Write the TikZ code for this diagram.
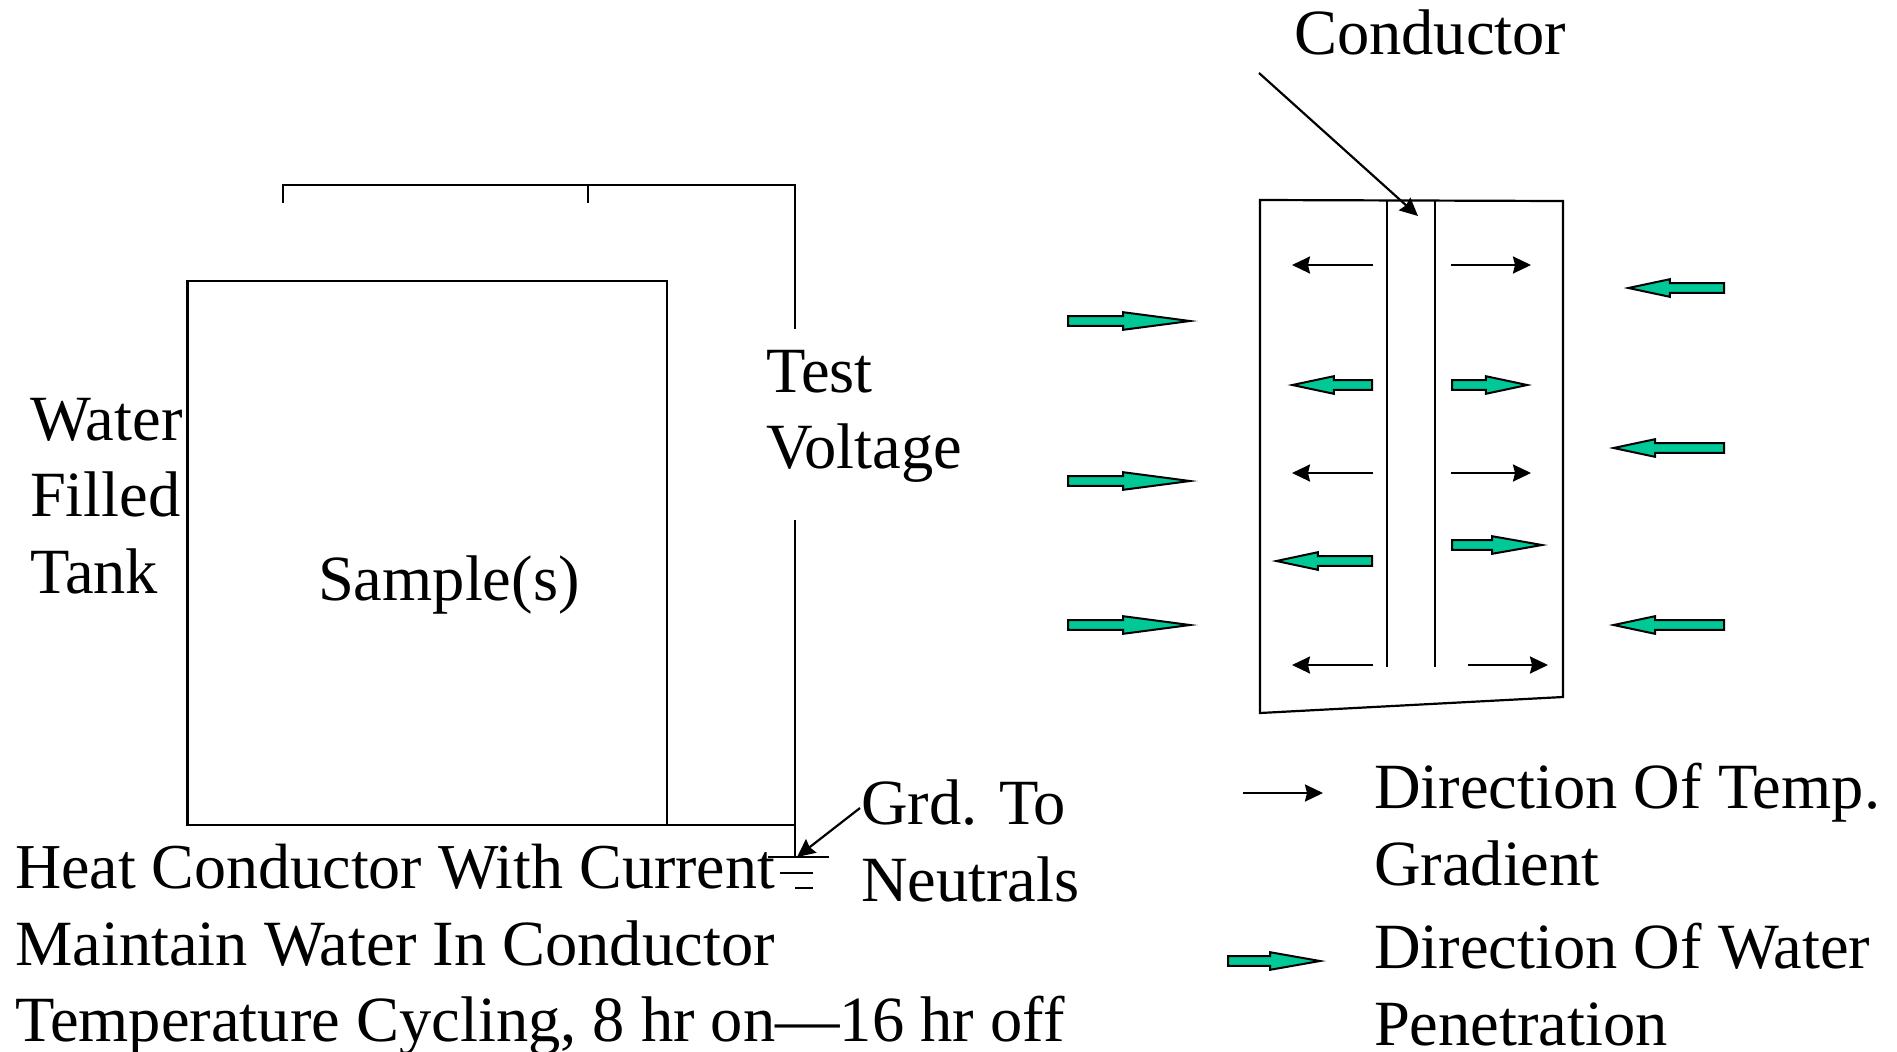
\documentclass[tikz,border=0pt]{standalone}
\usepackage{fontspec}
\setmainfont{Liberation Serif}
\usetikzlibrary{graphs}
\usetikzlibrary{arrows.meta}
\usetikzlibrary{shapes.arrows}
\definecolor{watergreen}{RGB}{0,200,150}
\tikzset{
  txt/.style= {font=\fontsize{32.25}{38.25}\selectfont, inner sep=0, anchor=north west, align=left},
  tankbox/.style= {draw, line width=1.1pt, inner sep=0, outer sep=0, minimum width=239.75pt, minimum height=272pt},
  water/.style= {draw, single arrow, fill=watergreen, line width=1pt, inner sep=1.9pt, outer sep=0, single arrow head extend=2pt, single arrow tip angle=24, anchor=tail},
  waterl/.style= {water, shape border rotate=180},
}

\begin{document}
\begin{tikzpicture}[x=0.5pt, y=-0.5pt, line width=1.1pt, >={Stealth[length=9pt, width=8.5pt, inset=1pt]}]
  \path [use as bounding box] (0,0) rectangle (1897,1051);

  % tank and test circuit
  \node [tankbox] (tank) at (427.25,553) {};
  \node [txt] (sample) at (317,555) {Sample(s)};
  \node [txt] (tanklabel) at (29,397) {Water\\Filled\\Tank};
  \node [txt] (voltage) at (765,349) {Test\\Voltage};
  \node [txt] (grdlabel) at (860,779) {Grd. To\\Neutrals};
  \node [txt] (notes) at (14,843) {{\fontsize{32}{38.25}\selectfont Heat Conductor With Current}\\Maintain Water In Conductor\\Temperature Cycling, 8 hr on---16 hr off};

  \coordinate (ta) at (283,203) ;
  \coordinate (tb) at (283,185) ;
  \coordinate (tc) at (588,203) ;
  \coordinate (td) at (588,185) ;
  \coordinate (te) at (795,185) ;
  \coordinate (tf) at (795,329) ;
  \coordinate (tg) at (795,520) ;
  \coordinate (th) at (795,857) ;
  \coordinate (ti) at (795,825) ;
  \coordinate (g1a) at (768,857) ;
  \coordinate (g1b) at (829,857) ;
  \coordinate (g2a) at (780,873) ;
  \coordinate (g2b) at (813,873) ;
  \coordinate (g3a) at (795,888) ;
  \coordinate (g3b) at (813,888) ;
  \coordinate (grdtail) at (860,808) ;
  \coordinate (grdtip) at (797,857) ;

  \draw (ta) -- (tb) -- (te) -- (tf) ;
  \draw (tc) -- (td) ;
  \draw (tg) -- (th) ;
  \draw (tank.south east) -- (ti) ;
  \draw (g1a) -- (g1b) ;
  \draw (g2a) -- (g2b) ;
  \draw (g3a) -- (g3b) ;

  % conductor section
  \node [txt] (condlabel) at (1293,9) {Conductor};
  \coordinate (bl) at (1260,713) ;
  \coordinate (tl) at (1260,200) ;
  \coordinate (tr) at (1563,201) ;
  \coordinate (br) at (1563,697) ;
  \coordinate (ca) at (1387,201) ;
  \coordinate (cb) at (1387,667) ;
  \coordinate (cc) at (1435,201) ;
  \coordinate (cd) at (1435,667) ;
  \coordinate (condtail) at (1259,73) ;
  \coordinate (condtip) at (1418,216) ;

  \draw (bl) -- (tl) -- (tr) -- (br) -- cycle ;
  \draw (ca) -- (cb) ;
  \draw (cc) -- (cd) ;

  % temperature arrows
  \coordinate (t1a) at (1373,265) ;
  \coordinate (t1b) at (1292,265) ;
  \coordinate (t2a) at (1451,265) ;
  \coordinate (t2b) at (1531,265) ;
  \coordinate (t3a) at (1373,473) ;
  \coordinate (t3b) at (1292,473) ;
  \coordinate (t4a) at (1451,473) ;
  \coordinate (t4b) at (1531,473) ;
  \coordinate (t5a) at (1373,665) ;
  \coordinate (t5b) at (1292,665) ;
  \coordinate (t6a) at (1468,665) ;
  \coordinate (t6b) at (1548,665) ;
  \coordinate (keya) at (1243,793) ;
  \coordinate (keyb) at (1323,793) ;

  \graph {
    (grdtail) -> (grdtip) ;
    (condtail) -> (condtip) ;
    (t1a) -> (t1b) ;
    (t2a) -> (t2b) ;
    (t3a) -> (t3b) ;
    (t4a) -> (t4b) ;
    (t5a) -> (t5b) ;
    (t6a) -> (t6b) ;
    (keya) -> (keyb) ;
  } ;

  % water arrows
  \node [waterl, minimum height=39.8pt] (w1) at (1372,385) {};
  \node [water, minimum height=37.6pt] (w2) at (1452,385) {};
  \node [waterl, minimum height=47.8pt] (w3) at (1372,561) {};
  \node [water, single arrow tip angle=20, minimum height=45pt] (w4) at (1452,545) {};
  \node [water, single arrow tip angle=15, minimum height=61pt] (w5) at (1068,321) {};
  \node [water, single arrow tip angle=15, minimum height=61pt] (w6) at (1068,481) {};
  \node [water, single arrow tip angle=15, minimum height=61pt] (w7) at (1068,625) {};
  \node [waterl, minimum height=47.8pt] (w8) at (1724,288) {};
  \node [waterl, minimum height=55.2pt] (w9) at (1724,448) {};
  \node [waterl, minimum height=55.2pt] (w10) at (1724,625) {};
  \node [water, single arrow tip angle=20, minimum height=46pt] (w11) at (1228,961) {};

  % legend
  \node [txt] (keytemp) at (1373,762) {Direction Of Temp.\\Gradient};
  \node [txt] (keywater) at (1373,922) {Direction Of Water\\Penetration};
\end{tikzpicture}
\end{document}
